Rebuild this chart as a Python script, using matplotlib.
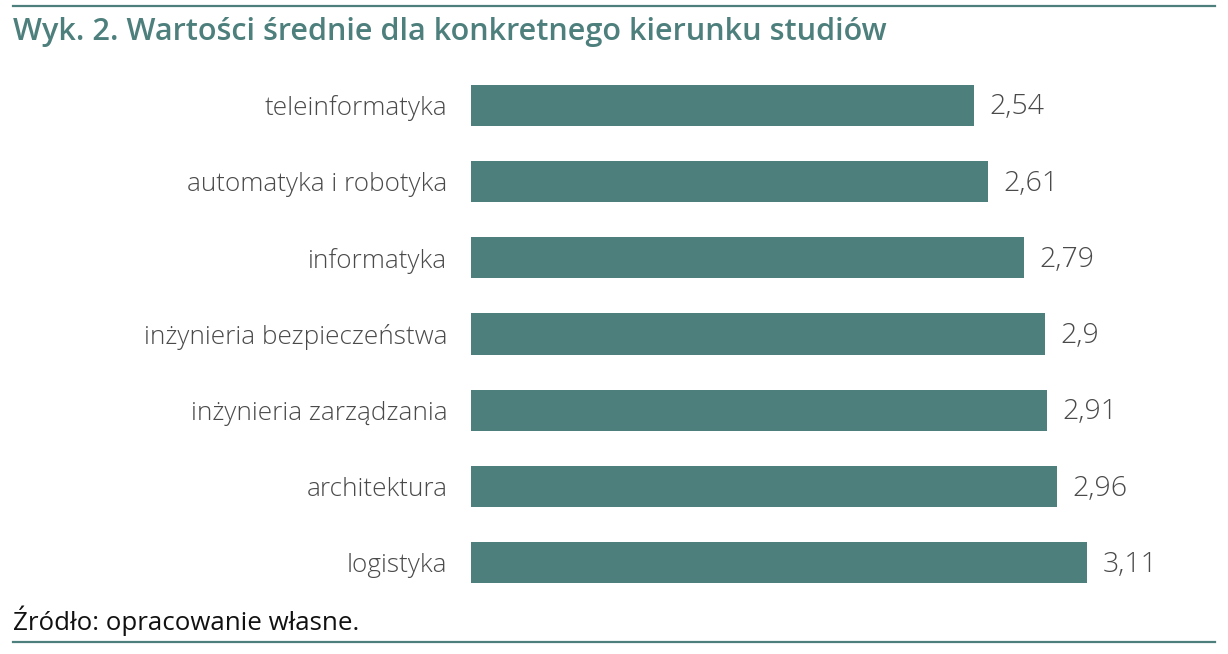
import matplotlib
matplotlib.use("Agg")
import matplotlib.pyplot as plt
from matplotlib.lines import Line2D

categories = ["teleinformatyka", "automatyka i robotyka", "informatyka",
              "inżynieria bezpieczeństwa", "inżynieria zarządzania",
              "architektura", "logistyka"]
values = [2.54, 2.61, 2.79, 2.9, 2.91, 2.96, 3.11]
value_labels = ["2,54", "2,61", "2,79", "2,9", "2,91", "2,96", "3,11"]

title = "Wyk. 2. Wartości średnie dla konkretnego kierunku studiów"
source = "Źródło: opracowanie własne."

teal = "#4d7f7c"
W, H = 1228, 654
fig = plt.figure(figsize=(W/100, H/100), dpi=100)

ax_left, ax_right = 471, 1215
ax_top, ax_bot = 67, 601
ax = fig.add_axes([ax_left/W, 1-ax_bot/H, (ax_right-ax_left)/W, (ax_bot-ax_top)/H])

y = list(range(len(categories)))
ax.barh(y, values, height=0.54, color=teal)
ax.set_ylim(len(categories)-0.5, -0.5)
ax.set_xlim(0, (ax_right-ax_left)/198.07)
ax.set_yticks(y)
ax.set_yticklabels(categories, fontfamily="Open Sans", fontweight="light",
                   fontsize=18.8, color="#4a4a4a")
ax.tick_params(axis="y", length=0, pad=17)
ax.set_xticks([])
for s in ax.spines.values():
    s.set_visible(False)

for yi, v, lab in zip(y, values, value_labels):
    ax.annotate(lab, (v, yi), xytext=(11, -1.5), textcoords="offset points",
                ha="left", va="center", fontfamily="Open Sans", fontweight="light",
                fontsize=20.5, color="#4a4a4a")

fig.text(13/W, 1-32/H, title, ha="left", va="center", fontfamily="Open Sans",
         fontweight="semibold", fontsize=22.1, color=teal)
fig.text(13/W, 1-621/H, source, ha="left", va="center", fontfamily="Open Sans",
         fontsize=18.6, color="#111111")

fig.add_artist(Line2D([13/W, 1215/W], [1-6/H, 1-6/H], color=teal, lw=1.6))
fig.add_artist(Line2D([13/W, 1215/W], [1-642/H, 1-642/H], color=teal, lw=1.6))

fig.savefig("out.png", dpi=100)
